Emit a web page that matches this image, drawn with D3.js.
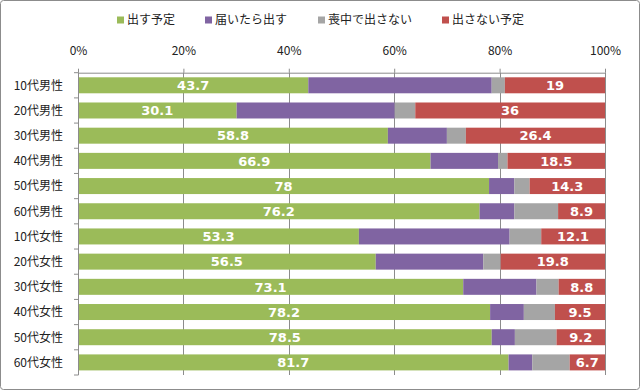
<!DOCTYPE html>
<html>
<head>
<meta charset="utf-8">
<script src="https://cdn.jsdelivr.net/npm/d3@7"></script>
<style>
  body { margin: 0; background: #fff; }
  svg { display: block; font-family: "Noto Sans CJK JP", sans-serif; }
</style>
</head>
<body>
<svg id="chart" width="640" height="391"></svg>
<script>
// categories (top to bottom)
var groups = ["10代男性","20代男性","30代男性","40代男性","50代男性","60代男性",
              "10代女性","20代女性","30代女性","40代女性","50代女性","60代女性"];
var seriesNames = ["出す予定","届いたら出す","喪中で出さない","出さない予定"];
var colors = ["#9bbb59","#8064a2","#a5a5a5","#c0504d"];

// values (percent)
var willSend   = [43.7, 30.1, 58.8, 66.9, 78.0, 76.2, 53.3, 56.5, 73.1, 78.2, 78.5, 81.7];
var ifReceived = [34.8, 30.0, 11.2, 12.8,  4.8,  6.6, 28.6, 20.4, 13.9,  6.4,  4.4,  4.5];
var mourning   = [ 2.5,  3.9,  3.6,  1.8,  2.9,  8.3,  6.0,  3.3,  4.2,  5.9,  7.9,  7.1];
var wontSend   = [19.0, 36.0, 26.4, 18.5, 14.3,  8.9, 12.1, 19.8,  8.8,  9.5,  9.2,  6.7];
var tickVals = [0, 20, 40, 60, 80, 100];

var svg = d3.select("#chart");

// outer frame
svg.append("rect").attr("x",0.5).attr("y",0.5).attr("width",639).attr("height",389)
  .attr("rx",3).attr("fill","#fff").attr("stroke","#8c8c8c");

var plotL = 78, plotR = 605, plotT = 72.7, plotB = 375;

var x = d3.scaleLinear().domain([0,100]).range([plotL,plotR]);
var y = d3.scaleBand().domain(groups).range([plotT,plotB]).paddingInner(0.365).paddingOuter(0.1825);

var rows = groups.map(function(g,i){
  return {group:g, s0:willSend[i], s1:ifReceived[i], s2:mourning[i], s3:wontSend[i]};
});
var stacked = d3.stack().keys(["s0","s1","s2","s3"])(rows);

/* gridlines */
svg.append("g").selectAll("line").data(tickVals.slice(1)).enter().append("line")
  .attr("x1",function(d){return Math.round(x(d))+0.5;})
  .attr("x2",function(d){return Math.round(x(d))+0.5;})
  .attr("y1",plotT).attr("y2",plotB)
  .attr("stroke","#8c8c8c").attr("stroke-width",1);

/* bars */
var layer = svg.append("g").selectAll("g").data(stacked).enter().append("g")
  .attr("fill",function(d,i){return colors[i];});
layer.selectAll("rect").data(function(d){return d;}).enter().append("rect")
  .attr("x",function(d){return x(d[0]);})
  .attr("width",function(d){return x(d[1])-x(d[0]);})
  .attr("y",function(d){return y(d.data.group);})
  .attr("height",y.bandwidth());

/* labels for first and last series */
[0,3].forEach(function(k){
  svg.append("g").selectAll("text").data(stacked[k]).enter().append("text")
    .attr("x",function(d){return (x(d[0])+x(d[1]))/2;})
    .attr("y",function(d){return y(d.data.group)+y.bandwidth()/2;})
    .attr("dy","0.36em")
    .attr("text-anchor","middle")
    .attr("fill","#fff")
    .style("font-family","'DejaVu Sans', Verdana, sans-serif")
    .style("font-weight","bold")
    .style("font-size","13px")
    .text(function(d){return +(d[1]-d[0]).toFixed(1);});
});

/* top axis */
var xAxis = d3.axisTop(x).tickValues(tickVals).tickFormat(function(d){return d+"%";})
  .tickSizeInner(4).tickSizeOuter(0).tickPadding(14);
var gx = svg.append("g").attr("transform","translate(0,"+plotT+")").call(xAxis);
gx.select(".domain").attr("stroke","#8c8c8c");
gx.selectAll(".tick line").attr("stroke","#8c8c8c");
gx.selectAll("text").attr("fill","#222").style("font-size","12px")
  .style("font-family","'Noto Sans CJK JP', sans-serif");

/* left axis with ticks at band boundaries */
var ga = svg.append("g");
ga.append("line").attr("x1",plotL+0.5).attr("x2",plotL+0.5).attr("y1",plotT).attr("y2",plotB)
  .attr("stroke","#8c8c8c");
ga.selectAll("line.tk").data(d3.range(groups.length+1)).enter().append("line")
  .attr("class","tk")
  .attr("x1",plotL-4).attr("x2",plotL+0.5)
  .attr("y1",function(i){return plotT+i*y.step();})
  .attr("y2",function(i){return plotT+i*y.step();})
  .attr("stroke","#8c8c8c");
ga.selectAll("text").data(groups).enter().append("text")
  .attr("x",63)
  .attr("y",function(d){return y(d)+y.bandwidth()/2;})
  .attr("dy","0.36em")
  .attr("text-anchor","end")
  .attr("fill","#222")
  .style("font-size","12px")
  .text(function(d){return d;});

/* legend */
var legendX = [117, 205, 318, 442];
var leg = svg.append("g").selectAll("g").data(seriesNames).enter().append("g")
  .attr("transform",function(d,i){return "translate("+legendX[i]+",20)";});
leg.append("rect").attr("x",0).attr("y",-3.5).attr("width",7).attr("height",7)
  .attr("fill",function(d,i){return colors[i];});
leg.append("text").attr("x",10).attr("dy","0.36em").attr("fill","#222")
  .style("font-size","12px").text(function(d){return d;});
</script>
</body>
</html>
